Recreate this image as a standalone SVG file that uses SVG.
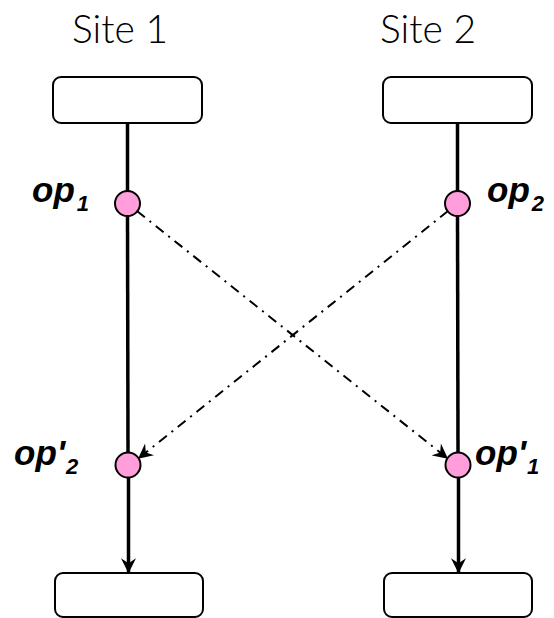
<svg xmlns="http://www.w3.org/2000/svg" width="554" height="618" viewBox="0 0 554 618">
  <style>
    .site { font-family: Lato, "Liberation Sans", sans-serif; font-size: 39px; font-weight: 300; fill: #000; }
    .op { font-family: "Liberation Sans", Arial, sans-serif; font-size: 35px; font-weight: bold; font-style: italic; fill: #000; }
    .sub { font-size: 22px; }
    .box { fill: #fff; stroke: #000; stroke-width: 2; }
    .event { fill: #ff9edb; stroke: #000; stroke-width: 2; }
    .timeline { stroke: #000; stroke-width: 3.5; fill: none; }
    .msg { stroke: #000; stroke-width: 2; fill: none; stroke-dasharray: 10 6 2 6; }
  </style>
  <defs>
    <!-- concave arrowheads for messages and timelines -->
    <marker id="head" viewBox="0 0 12 12" refX="11" refY="6" markerWidth="16" markerHeight="15" markerUnits="userSpaceOnUse" orient="auto">
      <path d="M0,0 L12,6 L0,12 L4,6 Z" fill="#000"/>
    </marker>
    <marker id="headBig" viewBox="0 0 12 12" refX="11" refY="6" markerWidth="15" markerHeight="22" markerUnits="userSpaceOnUse" orient="auto">
      <path d="M0,0 L12,6 L0,12 L4,6 Z" fill="#000"/>
    </marker>
  </defs>

  <!-- site headings -->
  <text class="site" x="72" y="43">Site 1</text>
  <text class="site" x="380" y="43">Site 2</text>

  <!-- timelines and messages -->
  <g id="connectors">
    <line class="timeline" x1="127.5" y1="123" x2="127.5" y2="192"/>
    <line class="timeline" x1="127.5" y1="215" x2="128" y2="453"/>
    <line class="timeline" x1="128.5" y1="477" x2="128.5" y2="572" marker-end="url(#headBig)"/>
    <line class="timeline" x1="457.5" y1="123" x2="457.5" y2="192"/>
    <line class="timeline" x1="457.5" y1="215" x2="458" y2="453"/>
    <line class="timeline" x1="458.5" y1="477" x2="458.5" y2="572" marker-end="url(#headBig)"/>
    <line class="msg" x1="137" y1="211" x2="447" y2="458" marker-end="url(#head)"/>
    <line class="msg" x1="448" y1="211" x2="139" y2="458" marker-end="url(#head)"/>
  </g>

  <g id="site1-start"><rect class="box" x="53" y="77" width="149" height="46" rx="8"/></g>
  <g id="site2-start"><rect class="box" x="383" y="77" width="149" height="46" rx="8"/></g>
  <g id="site1-end"><rect class="box" x="55" y="573" width="148" height="44" rx="8"/></g>
  <g id="site2-end"><rect class="box" x="384" y="573" width="148" height="44" rx="8"/></g>

  <g id="op1">
    <circle class="event" cx="127.5" cy="203.5" r="12.5"/>
    <text class="op" x="32" y="202">op<tspan class="sub" dx="2" dy="9">1</tspan></text>
  </g>
  <g id="op2">
    <circle class="event" cx="457.5" cy="203.5" r="12.5"/>
    <text class="op" x="487" y="202">op<tspan class="sub" dx="2" dy="9">2</tspan></text>
  </g>
  <g id="op2-prime">
    <circle class="event" cx="128" cy="465" r="12.5"/>
    <text class="op" x="14" y="465">op'<tspan class="sub" dx="1" dy="9">2</tspan></text>
  </g>
  <g id="op1-prime">
    <circle class="event" cx="458" cy="465" r="12.5"/>
    <text class="op" x="475" y="465">op'<tspan class="sub" dx="1" dy="9">1</tspan></text>
  </g>
</svg>
